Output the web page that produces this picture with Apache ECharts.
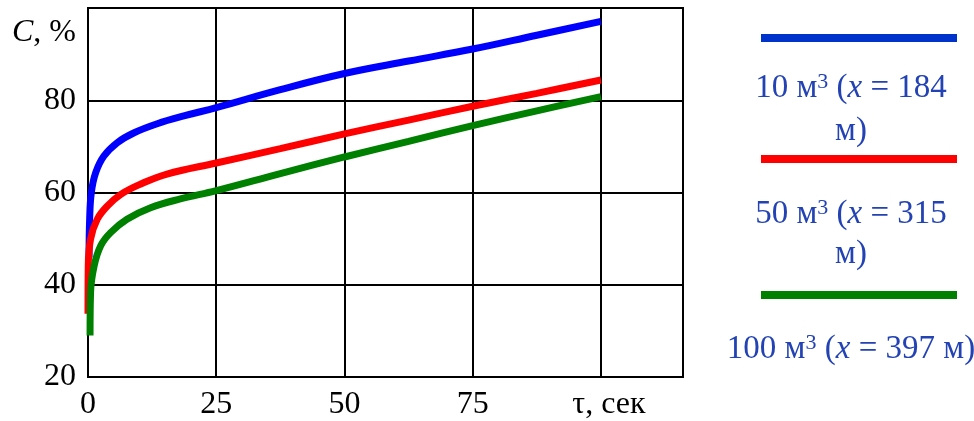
<!DOCTYPE html>
<html>
<head>
<meta charset="utf-8">
<script src="https://cdn.jsdelivr.net/npm/echarts@6/dist/echarts.min.js"></script>
<style>html,body{margin:0;padding:0;background:#fff}#c{width:974px;height:421px}</style>
</head>
<body>
<div id="c"></div>
<script>
// Data (τ, сек ; C, %)
const seriesNames = ['10 м³ (x = 184 м)', '50 м³ (x = 315 м)', '100 м³ (x = 397 м)'];
const blue10 = [[0.2,45.9],[0.32,54.2],[0.65,60],[1.5,64.3],[3.1,67.9],[5.7,70.8],[8.9,72.9],[13.5,74.9],[18.7,76.6],[25,78.4],[37.5,82.3],[50,85.8],[62.5,88.5],[75,91.1],[87.5,94.1],[100,97.1]];
const red50 = [[0,33.7],[0.05,44],[0.5,49.9],[1.8,54.2],[3.8,57.1],[6.4,59.6],[10.2,61.8],[15.4,64.0],[25,66.4],[37.5,69.5],[50,72.7],[62.5,75.7],[75,78.7],[87.5,81.5],[100,84.4]];
const green100 = [[0.4,29],[0.5,38.3],[1.2,44.1],[2.5,48.5],[4.4,51.3],[7.6,54.2],[12.2,56.7],[18,58.6],[25,60.4],[37.5,64.1],[50,67.7],[62.5,71.1],[75,74.5],[87.5,77.7],[100,80.8]];
const xTickLabels = ['0','25','50','75'];
const xAxisTitle = 'τ, сек';
const yTickLabels = ['20','40','60','80'];

const FF = "'Liberation Serif','Times New Roman',serif";
const chart = echarts.init(document.getElementById('c'), null, {renderer:'canvas'});
const legendText = '#2343b4';
const rich = {
  n:{fontFamily:FF, fontSize:33, fill:legendText},
  s:{fontFamily:FF, fontSize:22, fill:legendText, verticalAlign:'top'},
  i:{fontFamily:FF, fontSize:33, fill:legendText, fontStyle:'italic'}
};
const option = {
  animation:false,
  backgroundColor:'#fff',
  grid:{left:88, right:291, top:8, bottom:40, show:true, borderColor:'#000', borderWidth:2},
  xAxis:{type:'value', min:0, max:116, interval:25,
    axisLine:{show:false}, axisTick:{show:false},
    splitLine:{show:true, lineStyle:{color:'#000', width:2}},
    axisLabel:{fontFamily:FF, fontSize:32, color:'#000', margin:12, showMaxLabel:false,
      formatter:function(v){ if(v===100) return '{t|'+xAxisTitle+'}'; const k=Math.round(v/25); return (v%25===0 && k<xTickLabels.length)? xTickLabels[k] : ''; },
      rich:{t:{fontFamily:FF, fontSize:32, color:'#000', padding:[0,0,0,16]}}}
  },
  yAxis:{type:'value', min:20, max:100, interval:20,
    axisLine:{show:false}, axisTick:{show:false},
    splitLine:{show:true, lineStyle:{color:'#000', width:2}},
    axisLabel:{fontFamily:FF, fontSize:32, color:'#000', margin:12,
      formatter:function(v){ const k=Math.round((v-20)/20); return k<yTickLabels.length? yTickLabels[k] : ''; }}
  },
  series:[
    {name:seriesNames[0], type:'line', data:blue10, showSymbol:false, smooth:0.4, lineStyle:{color:'#0000ff', width:7}, z:3},
    {name:seriesNames[1], type:'line', data:red50, showSymbol:false, smooth:0.4, lineStyle:{color:'#ff0000', width:7}, z:3},
    {name:seriesNames[2], type:'line', data:green100, showSymbol:false, smooth:0.4, lineStyle:{color:'#008000', width:7}, z:3}
  ],
  graphic:[
    {type:'text', x:76, y:33, style:{text:'{i|C}{n|, %}', align:'right', verticalAlign:'middle',
      rich:{i:{fontFamily:FF, fontSize:32, fill:'#000', fontStyle:'italic'}, n:{fontFamily:FF, fontSize:32, fill:'#000'}}}},
    {type:'line', shape:{x1:761,y1:38,x2:957,y2:38}, style:{stroke:'#0033cc', lineWidth:8}},
    {type:'text', x:851, y:88, style:{text:'{n|10 м}{s|3}{n| (}{i|x}{n| = 184}', align:'center', verticalAlign:'middle', rich:rich}},
    {type:'text', x:851, y:131, style:{text:'{n|м)}', align:'center', verticalAlign:'middle', rich:rich}},
    {type:'line', shape:{x1:761,y1:159,x2:957,y2:159}, style:{stroke:'#ff0000', lineWidth:8}},
    {type:'text', x:851, y:214, style:{text:'{n|50 м}{s|3}{n| (}{i|x}{n| = 315}', align:'center', verticalAlign:'middle', rich:rich}},
    {type:'text', x:851, y:254, style:{text:'{n|м)}', align:'center', verticalAlign:'middle', rich:rich}},
    {type:'line', shape:{x1:761,y1:295,x2:957,y2:295}, style:{stroke:'#008000', lineWidth:8}},
    {type:'text', x:851, y:349, style:{text:'{n|100 м}{s|3}{n| (}{i|x}{n| = 397 м)}', align:'center', verticalAlign:'middle', rich:rich}}
  ]
};
chart.setOption(option);
</script>
</body>
</html>
